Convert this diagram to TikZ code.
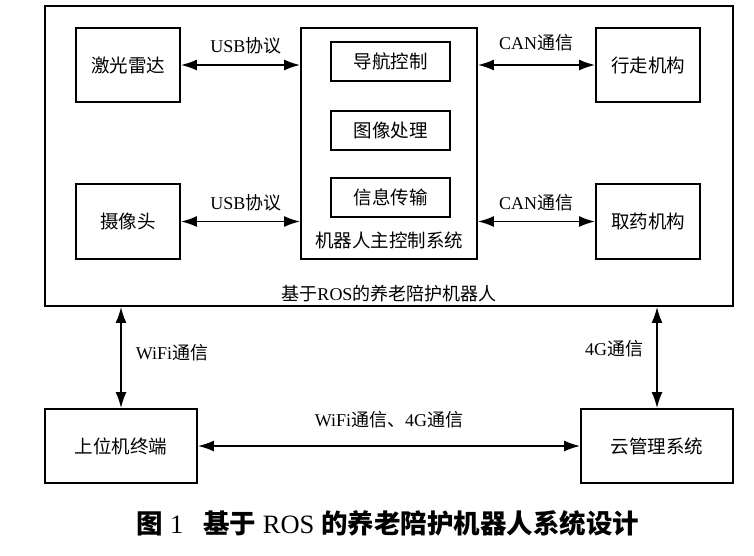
\documentclass[tikz,border=0pt]{standalone}
\usepackage{fontspec}
\setmainfont{Liberation Serif}
\newfontfamily\cjk{Noto Sans CJK SC}
\usetikzlibrary{arrows.meta}
\newcommand\zh[1]{{\cjk #1}}
\begin{document}
\begin{tikzpicture}[x=1pt,y=-1pt,
  box/.style={draw,line width=1.8pt,minimum width=104pt,minimum height=74pt,inner sep=0pt,font=\fontsize{18.5}{20}\selectfont},
  sub/.style={draw,line width=1.8pt,minimum width=119pt,minimum height=39pt,inner sep=0pt,font=\fontsize{18.5}{20}\selectfont},
  lbl/.style={font=\fontsize{18}{20}\selectfont,inner sep=0pt},
  conn/.style={line width=1.8pt,{Latex[length=16pt,width=11pt]}-{Latex[length=16pt,width=11pt]}}]
\useasboundingbox (0,0) rectangle (754,555);
\node[draw,line width=1.8pt,minimum width=688pt,minimum height=300pt,inner sep=0pt] (outer) at (389,156) {};
\node[box] (lidar) at (128,65) {\zh{激光雷达}};
\node[box,minimum height=75pt] (camera) at (128,221.5) {\zh{摄像头}};
\node[draw,line width=1.8pt,minimum width=176pt,minimum height=231pt,inner sep=0pt] (main) at (389,143.5) {};
\node[sub] (nav) at (390.5,61.5) {\zh{导航控制}};
\node[sub] (img) at (390.5,130.5) {\zh{图像处理}};
\node[sub] (info) at (390.5,197.5) {\zh{信息传输}};
\node[lbl,font=\fontsize{18.5}{20}\selectfont] (maint) at (389,240) {\zh{机器人主控制系统}};
\node[box] (walk) at (648,65) {\zh{行走机构}};
\node[box,minimum height=75pt] (take) at (648,221.5) {\zh{取药机构}};
\node[lbl] (robot) at (389,294) {\zh{基于}ROS\zh{的养老陪护机器人}};
\node[box,minimum width=152pt] (pc) at (121,446) {\zh{上位机终端}};
\node[box,minimum width=152pt] (cloud) at (657,446) {\zh{云管理系统}};
\draw[conn] (lidar.east) -- (lidar.east -| main.west);
\draw[conn] (camera.east) -- (camera.east -| main.west);
\draw[conn] (walk.west -| main.east) -- (walk.west);
\draw[conn] (take.west -| main.east) -- (take.west);
\draw[conn] (outer.south -| pc.north) -- (pc.north);
\draw[conn] (outer.south -| cloud.north) -- (cloud.north);
\draw[conn] (pc.east) -- (cloud.west);
\node[lbl] (usb1) at (246,46) {USB\zh{协议}};
\node[lbl] (usb2) at (246,203) {USB\zh{协议}};
\node[lbl] (can1) at (536,43) {CAN\zh{通信}};
\node[lbl] (can2) at (536,203) {CAN\zh{通信}};
\node[lbl] (wifi) at (172,353) {WiFi\zh{通信}};
\node[lbl] (g4) at (614,349) {4G\zh{通信}};
\node[lbl] (both) at (389,420) {WiFi\zh{通信、}4G\zh{通信}};
\node[font=\fontsize{26.5}{28}\selectfont,inner sep=0pt] (cap) at (388,523) {{\cjk\bfseries 图} 1\hspace{20pt}{\cjk\bfseries 基于} ROS {\cjk\bfseries 的养老陪护机器人系统设计}};
\end{tikzpicture}
\end{document}
